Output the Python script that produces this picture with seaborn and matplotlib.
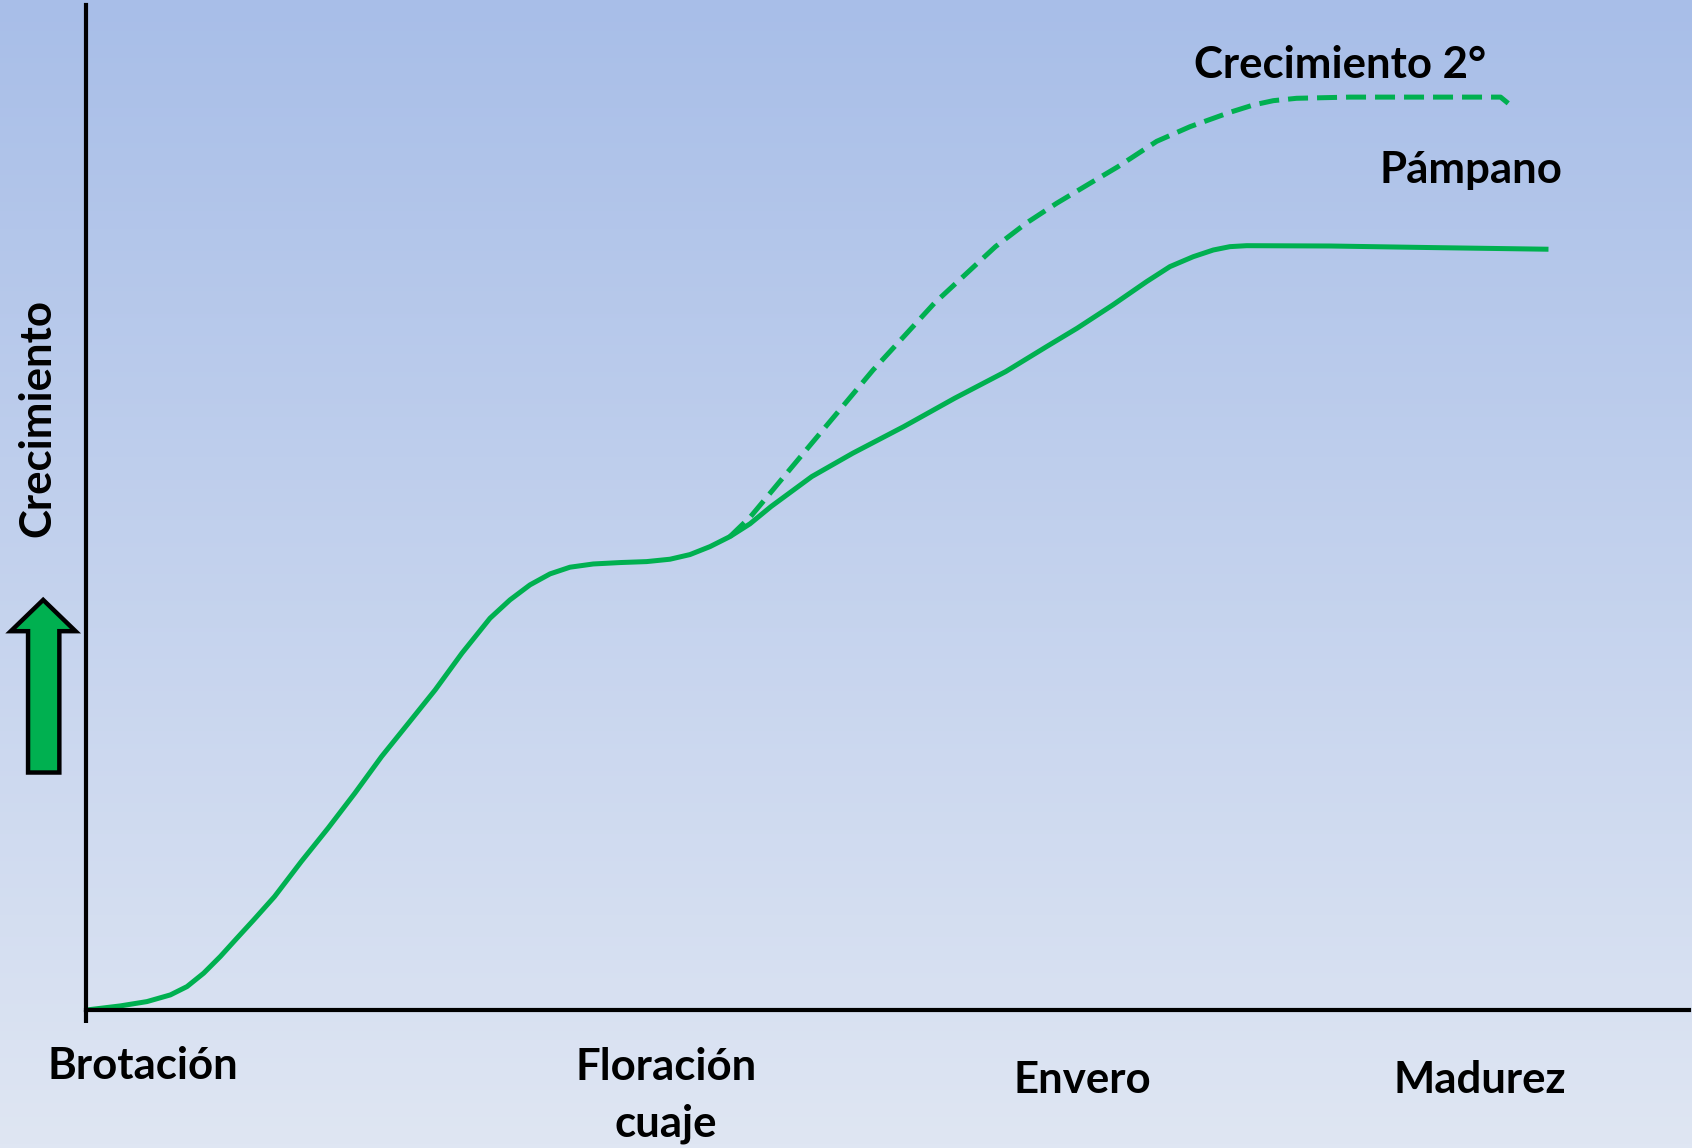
import numpy as np
import matplotlib
matplotlib.use("Agg")
import matplotlib.pyplot as plt
from matplotlib.patches import Polygon
import seaborn as sns

# Season progress (arbitrary time units) and cumulative growth of the main shoot
shoot_x = [1, 31.5, 56.2, 77.9, 93.3, 108.7, 124.2, 139.6, 155.1, 174.4, 199.2,
           224, 248.8, 273.6, 298.5, 323.3, 348.1, 374.1, 392.6, 411.1, 429.7,
           448.2, 469.8, 494.6, 519.3, 540.9, 559.4, 578, 596.5, 615, 634.5,
           672.3, 710.2, 757.5, 804.7, 852, 889.8, 918.2, 951.3, 982.6, 1004.2,
           1025.8, 1044.4, 1059.8, 1075.3, 1152.5, 1249.2, 1355]
shoot_y = [0, 3.7, 7.7, 13.9, 21.6, 34, 49.5, 66.5, 83.4, 105, 137.5,
           168.4, 200.8, 234.8, 265.7, 296.6, 330.6, 363, 380, 393.9, 404.1,
           410.3, 413.3, 414.6, 415.5, 417.7, 422, 429.4, 438.7, 450.5, 466.5,
           494.3, 515.9, 540.6, 566.9, 591.6, 614.7, 631.8, 653.4, 675, 688.9,
           698.1, 704.3, 707.4, 708.3, 708, 706.5, 705]

# Secondary growth branching off after fruit set
second_x = [596.5, 615.6, 643.9, 672.3, 700.7, 729.1, 757.5, 785.8, 814.2, 842.5,
            870.9, 899.2, 927.6, 956, 991.9, 1022.8, 1059.8, 1081.5, 1100,
            1121.6, 1171, 1249.2, 1310.6, 1317.7]
second_y = [438.7, 457.2, 491.2, 525.2, 559.1, 593.1, 624, 654.9, 681.2, 707.4,
            729.1, 747.6, 764.6, 781.5, 805, 818.6, 831.9, 838.7, 842.7,
            844.9, 846, 846, 846, 840.2]

stage_labels = ["Brotación", "Floración\ncuaje", "Envero", "Madurez"]
stage_pos = [(132, 988), (617, 1015), (1003, 1001), (1371, 1001)]

GREEN = "#00B050"
W, H = 1568, 1064  # layout grid used for placing elements
FS = 31.5

sns.set_theme(style="white")
plt.rcParams["font.family"] = ["Lato", "DejaVu Sans"]

fig = plt.figure(figsize=(16.92, 11.48), dpi=100)

# vertical gradient background
bg = fig.add_axes([0, 0, 1, 1], zorder=0)
top = np.array([168, 190, 232]) / 255
bot = np.array([223, 230, 243]) / 255
t = np.linspace(0, 1, 256)[:, None]
grad = (top[None, :] * (1 - t) + bot[None, :] * t)[:, None, :]
bg.imshow(grad, aspect="auto", extent=[0, 1, 0, 1], origin="upper")
bg.set_axis_off()

# plotting area
x0, x1 = 80 / W, 1565 / W
y0, y1 = 1 - 936 / H, 1 - 5 / H
ax = fig.add_axes([x0, y0, x1 - x0, y1 - y0], zorder=1)
ax.patch.set_alpha(0)
ax.set_xlim(0, 1485)
ax.set_ylim(0, 931)

sns.lineplot(x=shoot_x, y=shoot_y, ax=ax, color=GREEN, lw=3.6, sort=False,
             estimator=None, solid_capstyle="butt", solid_joinstyle="round")
sns.lineplot(x=second_x, y=second_y, ax=ax, color=GREEN, lw=3.6, sort=False,
             estimator=None, linestyle=(0, (4.0, 1.8)))

for s in ["top", "right"]:
    ax.spines[s].set_visible(False)
for s in ["left", "bottom"]:
    ax.spines[s].set_color("black")
    ax.spines[s].set_linewidth(3)
ax.plot([0, 0], [-12, 0], color="black", lw=3, clip_on=False,
        solid_capstyle="butt")
ax.set_xticks([])
ax.set_yticks([])
ax.set_xlabel("")
ax.set_ylabel("")

# stage labels along the season axis
for lab, (px, py) in zip(stage_labels, stage_pos):
    fig.text(px / W, 1 - py / H, lab, ha="center", va="center",
             fontsize=FS, fontweight="bold", color="black",
             linespacing=1.5, zorder=3)

fig.text(1242 / W, 1 - 60 / H, "Crecimiento 2°", ha="center", va="center",
         fontsize=FS, fontweight="bold", color="black", zorder=3)
fig.text(1363 / W, 1 - 158 / H, "Pámpano", ha="center", va="center",
         fontsize=FS, fontweight="bold", color="black", zorder=3)
fig.text(35 / W, 1 - 387 / H, "Crecimiento", ha="center", va="center",
         rotation=90, fontsize=FS, fontweight="bold", color="black", zorder=3)

# upward arrow beside the growth axis
arrow = [(40, 556), (70, 585), (55, 585), (55, 716), (26, 716), (26, 585),
         (10, 585)]
arrow = [(px / W, 1 - py / H) for px, py in arrow]
fig.add_artist(Polygon(arrow, closed=True, transform=fig.transFigure,
                       facecolor=GREEN, edgecolor="black", lw=3.2,
                       joinstyle="miter", zorder=3))

fig.savefig("out.png", dpi=100)
